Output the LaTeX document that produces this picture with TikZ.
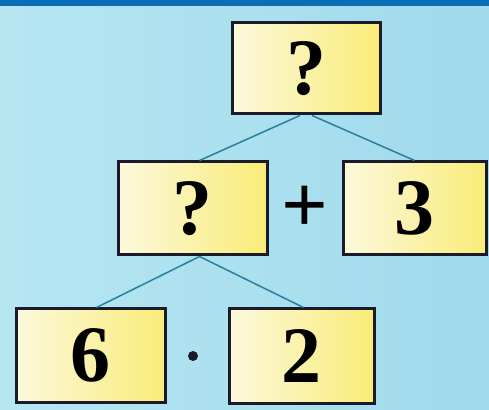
\documentclass[tikz,border=0pt]{standalone}
\usepackage{fontspec}
\setmainfont{Liberation Serif}
\definecolor{bgA}{HTML}{B6E6F2}
\definecolor{bgB}{HTML}{A0DAEC}
\definecolor{barblue}{HTML}{0B6CB8}
\definecolor{boxL}{HTML}{FCF8DC}
\definecolor{boxR}{HTML}{F9EC78}
\definecolor{edge}{HTML}{1A1A2A}
\definecolor{link}{HTML}{2A7F9E}
\tikzset{
  numbox/.style={draw=edge, line width=3pt, left color=boxL, right color=boxR,
    inner sep=0pt, font=\fontsize{80}{80}\selectfont\bfseries},
  linkline/.style={draw=link, line width=1.5pt},
  opsign/.style={inner sep=0pt, font=\fontsize{82}{82}\selectfont\bfseries},
  dotsign/.style={circle, fill=edge, inner sep=0pt, minimum size=10pt}
}
\begin{document}
\begin{tikzpicture}[x=1pt,y=1pt]
\useasboundingbox (0,0) rectangle (489,409);
\shade[left color=bgA, right color=bgB] (0,0) rectangle (489,409);
\fill[barblue] (0,403) rectangle (489,409);
\node[numbox, minimum width=148pt, minimum height=91pt] (top) at (306,340.5) {?};
\node[numbox, minimum width=149pt, minimum height=93pt] (mid) at (192.5,200.5) {?};
\node[numbox, minimum width=143pt, minimum height=93pt] (three) at (414.5,200.5) {3};
\node[numbox, minimum width=149pt, minimum height=93pt] (six) at (90.5,53.5) {6};
\node[numbox, minimum width=145pt, minimum height=94pt] (two) at (301.5,53) {2};
\node[opsign] (plus) at (305,200) {+};
\node[dotsign] (dot) at (193,53) {};
\draw[linkline] ([xshift=-6pt]top.south) -- ([xshift=7pt]mid.north);
\draw[linkline] ([xshift=6pt]top.south) -- (three.north);
\draw[linkline] ([xshift=7pt]mid.south) -- ([xshift=6pt]six.north);
\draw[linkline] ([xshift=7pt]mid.south) -- ([xshift=2pt]two.north);
\end{tikzpicture}
\end{document}
